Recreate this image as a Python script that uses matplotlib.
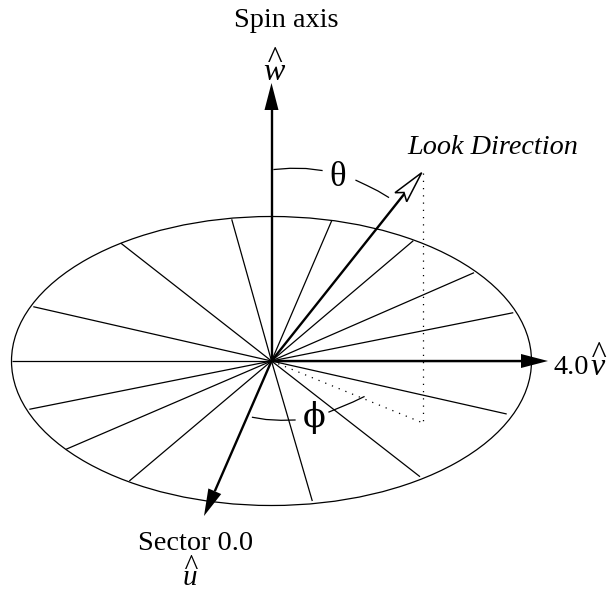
import matplotlib
matplotlib.use('Agg')
import matplotlib.pyplot as plt
from matplotlib.patches import Ellipse, Polygon
import numpy as np

plt.rcParams['font.family'] = ['Liberation Serif', 'DejaVu Serif']

# everything is in picture pixels, y pointing down
center = (271.5, 361)
ellipse_w = 520
ellipse_h = 289

spoke_x = [231.7, 121, 33.3, 11.7, 29.3, 66, 129.3, 312.3, 420, 506.7, 531, 513.3, 474, 413.3, 331.7]
spoke_y = [219.3, 243.3, 306.7, 361, 409.3, 449.3, 481, 501, 476.7, 414, 361, 312.7, 272.7, 240.7, 220.7]

# axes: name, tip x, tip y
axis_names = ['w', 'v', 'u']
axis_tip_x = [271.5, 548, 204]
axis_tip_y = [83, 361, 516]

look_x = [421.7, 395, 404, 406.7]
look_y = [172.7, 192.7, 192.5, 201.7]

theta_arc1_x = [274, 290, 306, 322]
theta_arc1_y = [169.5, 168.3, 168.5, 170.5]
theta_arc2_x = [356, 367, 378, 388.5]
theta_arc2_y = [180.3, 185.5, 191, 197.3]
phi_arc1_x = [252.5, 266, 281, 295]
phi_arc1_y = [417.3, 419.5, 420.3, 420]
phi_arc2_x = [329, 341, 353, 364]
phi_arc2_y = [412, 407, 402, 396.7]

fig = plt.figure(figsize=(6.09, 5.90), dpi=100)
ax = fig.add_axes([0, 0, 1, 1])
ax.set_xlim(0, 609)
ax.set_ylim(590, 0)
ax.axis('off')

ax.add_patch(Ellipse(center, ellipse_w, ellipse_h, fill=False, ec='black', lw=0.9))
for x, y in zip(spoke_x, spoke_y):
    ax.plot([center[0], x], [center[1], y], color='black', lw=0.9, solid_capstyle='butt')

# dotted projection of the look direction
ax.plot([423, 423], [173, 423], color='black', lw=0.9, ls=(0, (1, 4.8)))
ax.plot([center[0], 423], [center[1], 423], color='black', lw=0.9, ls=(0, (1, 4.8)))

# solid axes, filled heads
for name, tx, ty in zip(axis_names, axis_tip_x, axis_tip_y):
    d = np.array([tx - center[0], ty - center[1]])
    d = d / np.hypot(*d)
    n = np.array([-d[1], d[0]])
    tip = np.array([tx, ty])
    base = tip - 27 * d
    ax.plot([center[0], base[0]], [center[1], base[1]], color='black', lw=1.7, solid_capstyle='butt')
    ax.add_patch(Polygon([tip, base + 7 * n, base - 7 * n], closed=True, fc='black', ec='none'))

# look direction with open head
ax.plot([center[0], 405], [center[1], 193], color='black', lw=1.7, solid_capstyle='butt')
ax.add_patch(Polygon(list(zip(look_x, look_y)), closed=True, fc='white', ec='black', lw=1.1, zorder=3))

for xs, ys in [(theta_arc1_x, theta_arc1_y), (theta_arc2_x, theta_arc2_y),
               (phi_arc1_x, phi_arc1_y), (phi_arc2_x, phi_arc2_y)]:
    ax.plot(xs, ys, color='black', lw=0.9)

label = 20.3
letter = 23
ax.text(286.5, 20.6, 'Spin axis', fontsize=label, ha='center', va='center')
ax.text(492.5, 148, 'Look Direction', fontsize=label, style='italic', ha='center', va='center')
ax.text(338, 178, 'θ', fontsize=25, ha='center', va='center')
ax.text(314, 417.5, 'ϕ', fontsize=24, ha='center', va='center', family='DejaVu Serif')
ax.text(554, 367, '4.0', fontsize=label, ha='left', va='center')
ax.text(195.5, 543, 'Sector 0.0', fontsize=label, ha='center', va='center')

# hat and letter in one text, baseline of the letter is the anchor
ax.text(274, 80, '^\nw', fontsize=letter, style='italic', ha='center', va='baseline', ma='center', linespacing=0.22)
ax.text(598, 375, '^\nv', fontsize=letter, style='italic', ha='center', va='baseline', ma='center', linespacing=0.22)
ax.text(190, 585, '^\nu', fontsize=21, style='italic', ha='center', va='baseline', ma='center', linespacing=0.22)

fig.savefig('out.png', dpi=100)
